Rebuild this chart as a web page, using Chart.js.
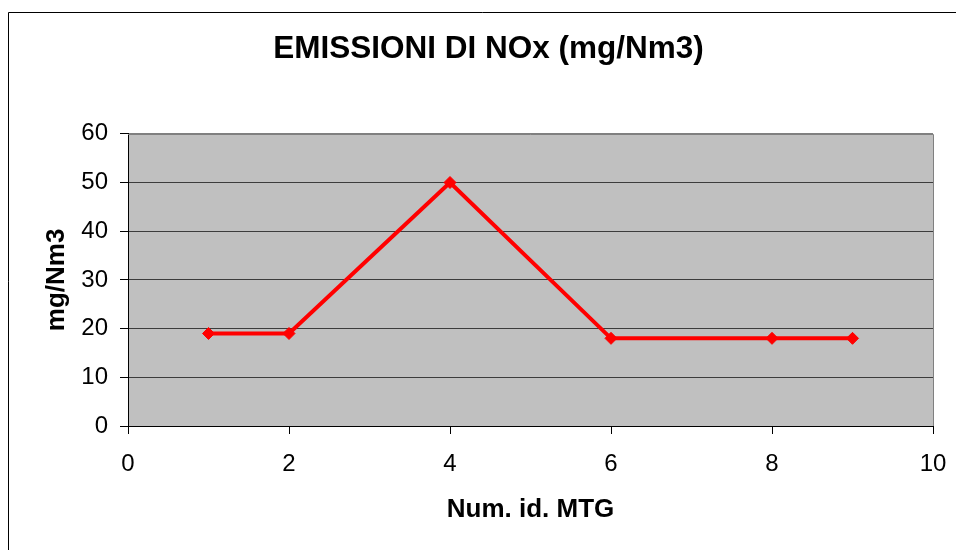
<!DOCTYPE html>
<html>
<head>
<meta charset="utf-8">
<script src="https://cdn.jsdelivr.net/npm/chart.js@4/dist/chart.umd.min.js"></script>
<style>
  html, body { margin: 0; padding: 0; background: #fff; }
  canvas { display: block; }
</style>
</head>
<body>
<canvas id="nox-chart" width="956" height="550"></canvas>
<script>
  const mtgIds = [1, 2, 4, 6, 8, 9];
  const noxValues = [19, 19, 50, 18, 18, 18];
  const yTicks = [0, 10, 20, 30, 40, 50, 60];
  const xTicks = [0, 2, 4, 6, 8, 10];

  const font = "'Liberation Sans', Arial, sans-serif";

  // gray plot area, gray top/right border, outer frame
  const plotBox = {
    id: "plotBox",
    beforeDraw(chart) {
      const { ctx, chartArea: a } = chart;
      ctx.save();
      ctx.fillStyle = "#fff";
      ctx.fillRect(0, 0, chart.width, chart.height);
      ctx.fillStyle = "#C0C0C0";
      ctx.fillRect(a.left, a.top, a.right - a.left, a.bottom - a.top);
      ctx.strokeStyle = "#000";
      ctx.lineWidth = 1;
      ctx.beginPath();
      ctx.moveTo(8.5, chart.height);
      ctx.lineTo(8.5, 12.5);
      ctx.lineTo(chart.width, 12.5);
      ctx.stroke();
      ctx.restore();
    },
    beforeDatasetsDraw(chart) {
      const { ctx, chartArea: a } = chart;
      ctx.save();
      ctx.strokeStyle = "#808080";
      ctx.lineWidth = 1;
      ctx.beginPath();
      ctx.moveTo(a.left, Math.round(a.top) + 0.5);
      ctx.lineTo(Math.round(a.right) + 0.5, Math.round(a.top) + 0.5);
      ctx.lineTo(Math.round(a.right) + 0.5, a.bottom);
      ctx.stroke();
      ctx.restore();
    }
  };

  new Chart(document.getElementById("nox-chart").getContext("2d"), {
    type: "line",
    data: {
      datasets: [{
        label: "NOx",
        data: mtgIds.map((x, i) => ({ x, y: noxValues[i] })),
        borderColor: "#FF0000",
        backgroundColor: "#FF0000",
        borderWidth: 4,
        pointStyle: "rectRot",
        pointRadius: 6,
        pointBorderWidth: 1,
        pointHoverRadius: 6,
        tension: 0,
        fill: false
      }]
    },
    options: {
      responsive: false,
      animation: false,
      layout: { padding: { left: 44, right: 23, top: 0, bottom: 0 } },
      plugins: {
        legend: { display: false },
        tooltip: { enabled: false },
        title: {
          display: true,
          text: "EMISSIONI DI NOx (mg/Nm3)",
          color: "#000",
          font: { family: font, size: 31.5, weight: "bold" },
          padding: { top: 30, bottom: 66 }
        }
      },
      scales: {
        x: {
          type: "linear",
          min: 0,
          max: 10,
          afterBuildTicks: s => { s.ticks = xTicks.map(v => ({ value: v })); },
          afterFit: s => { s.height = 124; s.paddingLeft = 0; s.paddingRight = 0; },
          ticks: { color: "#000", padding: 16, font: { family: font, size: 24 } },
          grid: { drawOnChartArea: false, tickLength: 8, tickColor: "#000" },
          border: { color: "#000" },
          title: {
            display: true,
            text: "Num. id. MTG",
            color: "#000",
            font: { family: font, size: 26, weight: "bold" },
            padding: { top: 0, bottom: 25 }
          }
        },
        y: {
          min: 0,
          max: 60,
          afterBuildTicks: s => { s.ticks = yTicks.map(v => ({ value: v })); },
          afterFit: s => { s.width = 84; },
          ticks: { color: "#000", padding: 12, font: { family: font, size: 24 } },
          grid: {
            color: c => (c.tick && c.tick.value === 60 ? "#808080" : "#3c3c3c"),
            tickLength: 8,
            tickColor: "#000"
          },
          border: { color: "#000" },
          title: {
            display: true,
            text: "mg/Nm3",
            color: "#000",
            font: { family: font, size: 26, weight: "bold" },
            padding: { top: -3, bottom: 0 }
          }
        }
      }
    },
    plugins: [plotBox]
  });
</script>
</body>
</html>
